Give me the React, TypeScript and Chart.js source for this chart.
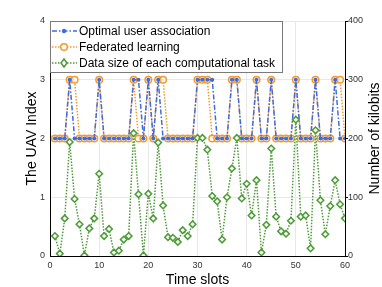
import React, { useEffect, useRef } from 'react';
import { Chart, registerables } from 'chart.js';

Chart.register(...registerables);

const timeSlots = [
  1, 2, 3, 4, 5, 6, 7, 8, 9, 10, 11, 12, 13, 14, 15, 16, 17, 18, 19, 20,
  21, 22, 23, 24, 25, 26, 27, 28, 29, 30, 31, 32, 33, 34, 35, 36, 37, 38, 39, 40,
  41, 42, 43, 44, 45, 46, 47, 48, 49, 50, 51, 52, 53, 54, 55, 56, 57, 58, 59, 60,
];

const optimalUav = [
  2, 2, 2, 3, 2, 2, 2, 2, 2, 3, 2, 2, 2, 2, 2, 2, 3, 3, 2, 3,
  2, 3, 2, 2, 2, 2, 2, 2, 2, 3, 3, 3, 3, 2, 2, 2, 3, 3, 2, 2,
  2, 3, 2, 2, 3, 2, 2, 2, 2, 3, 2, 2, 2, 3, 2, 2, 2, 3, 2, 2,
];

const federatedUav = [
  2, 2, 2, 3, 3, 2, 2, 2, 2, 3, 2, 2, 2, 2, 2, 2, 3, 2, 2, 3,
  2, 3, 3, 2, 2, 2, 2, 2, 2, 3, 3, 3, 2, 2, 2, 2, 3, 3, 2, 2,
  2, 3, 2, 2, 3, 2, 2, 2, 2, 3, 2, 2, 2, 3, 2, 2, 2, 3, 3, 2,
];

const dataSizeKbits = [
  34, 4, 64, 194, 97, 54, 1, 47, 64, 140, 34, 46, 6, 9, 28, 34, 209, 105, 1, 106,
  64, 193, 86, 32, 31, 24, 44, 34, 54, 201, 201, 181, 102, 93, 28, 100, 149, 201, 98, 123,
  69, 129, 6, 53, 183, 67, 42, 38, 60, 232, 67, 69, 13, 214, 95, 37, 85, 129, 88, 64,
];

const xTicks = [0, 10, 20, 30, 40, 50, 60];
const leftTicks = [0, 1, 2, 3, 4];
const rightTicks = [0, 100, 200, 300, 400];

const seriesNames = [
  'Optimal user association',
  'Federated learning',
  'Data size of each computational task',
];

const BLUE = '#3f6be0';
const ORANGE = '#f39a2c';
const GREEN = '#4e9a38';
const FONT = '"Liberation Sans", Arial, sans-serif';

const overlayPlugin = {
  id: 'overlay',
  afterDraw(chart: any) {
    const ctx = chart.ctx as CanvasRenderingContext2D;
    const { left, top, right, bottom } = chart.chartArea;
    ctx.save();
    // legend box
    const bx = left;
    const by = top;
    const bw = 232;
    const bh = 51;
    ctx.fillStyle = '#ffffff';
    ctx.fillRect(bx, by, bw, bh);
    ctx.strokeStyle = '#7a7a7a';
    ctx.lineWidth = 1;
    ctx.setLineDash([]);
    ctx.strokeRect(bx + 0.5, by + 0.5, bw, bh);

    const rows = [by + 10, by + 26, by + 42];
    const styles = [
      { color: BLUE, dash: [5, 2, 1.5, 2] },
      { color: ORANGE, dash: [1.5, 1.5] },
      { color: GREEN, dash: [1.5, 1.5] },
    ];
    ctx.font = `12px ${FONT}`;
    ctx.textBaseline = 'middle';
    ctx.textAlign = 'left';
    seriesNames.forEach((name, i) => {
      const y = rows[i];
      const st = styles[i];
      ctx.strokeStyle = st.color;
      ctx.lineWidth = 1.5;
      ctx.setLineDash(st.dash);
      ctx.beginPath();
      ctx.moveTo(bx + 2, y);
      ctx.lineTo(bx + 27, y);
      ctx.stroke();
      ctx.setLineDash([]);
      const mx = bx + 14;
      if (i === 0) {
        ctx.fillStyle = st.color;
        ctx.beginPath();
        ctx.arc(mx, y, 2.2, 0, Math.PI * 2);
        ctx.fill();
      } else if (i === 1) {
        ctx.fillStyle = '#ffffff';
        ctx.beginPath();
        ctx.arc(mx, y, 3.3, 0, Math.PI * 2);
        ctx.fill();
        ctx.stroke();
      } else {
        ctx.fillStyle = '#ffffff';
        ctx.beginPath();
        ctx.moveTo(mx, y - 4);
        ctx.lineTo(mx + 3, y);
        ctx.lineTo(mx, y + 4);
        ctx.lineTo(mx - 3, y);
        ctx.closePath();
        ctx.fill();
        ctx.stroke();
      }
      ctx.fillStyle = '#000000';
      ctx.fillText(name, bx + 29, y + 0.5);
    });

    // axis titles
    ctx.fillStyle = '#000000';
    ctx.font = `14px ${FONT}`;
    ctx.textAlign = 'center';
    ctx.textBaseline = 'middle';
    ctx.fillText('Time slots', (left + right) / 2, 280);

    const midY = (top + bottom) / 2;
    ctx.save();
    ctx.translate(32, midY);
    ctx.rotate(-Math.PI / 2);
    ctx.fillText('The UAV Index', 0, 0);
    ctx.restore();

    ctx.save();
    ctx.translate(375, midY);
    ctx.rotate(-Math.PI / 2);
    ctx.fillText('Number of kilobits', 0, 0);
    ctx.restore();

    ctx.restore();
  },
};

export default function App() {
  const canvasRef = useRef<HTMLCanvasElement | null>(null);

  useEffect(() => {
    if (!canvasRef.current) return;
    const tickFont = { family: FONT, size: 9 };
    const chart = new Chart(canvasRef.current, {
      type: 'line',
      data: {
        datasets: [
          {
            label: seriesNames[2],
            data: timeSlots.map((x, i) => ({ x, y: dataSizeKbits[i] })),
            yAxisID: 'y1',
            borderColor: GREEN,
            borderWidth: 1.5,
            borderDash: [1.5, 1.5],
            pointStyle: 'rectRot',
            pointRadius: 3.3,
            pointBorderWidth: 1.5,
            pointBorderColor: GREEN,
            pointBackgroundColor: '#f4f9f2',
            tension: 0,
            order: 0,
          },
          {
            label: seriesNames[0],
            data: timeSlots.map((x, i) => ({ x, y: optimalUav[i] })),
            yAxisID: 'y',
            borderColor: BLUE,
            borderWidth: 1.5,
            borderDash: [5, 2, 1.5, 2],
            pointStyle: 'circle',
            pointRadius: 2,
            pointBorderWidth: 0,
            pointBackgroundColor: BLUE,
            tension: 0,
            order: 1,
          },
          {
            label: seriesNames[1],
            data: timeSlots.map((x, i) => ({ x, y: federatedUav[i] })),
            yAxisID: 'y',
            borderColor: ORANGE,
            borderWidth: 1.5,
            borderDash: [1.5, 1.5],
            pointStyle: 'circle',
            pointRadius: 3.3,
            pointBorderWidth: 1.5,
            pointBorderColor: ORANGE,
            pointBackgroundColor: 'rgba(255,255,255,0.6)',
            tension: 0,
            order: 2,
          },
        ],
      },
      options: {
        responsive: false,
        animation: false,
        events: [],
        layout: { padding: { top: 21, left: 0, right: 0, bottom: 0 } },
        plugins: {
          legend: { display: false },
          tooltip: { enabled: false },
          title: { display: false },
        },
        scales: {
          x: {
            type: 'linear',
            min: 0,
            max: 60,
            afterBuildTicks: (s: any) => {
              s.ticks = xTicks.map((v) => ({ value: v }));
            },
            afterFit: (s: any) => {
              s.height = 31;
            },
            ticks: {
              font: tickFont,
              color: '#333333',
              padding: 4,
              maxRotation: 0,
              autoSkip: false,
            },
            grid: { color: '#e8e8e8', drawTicks: false, lineWidth: 1 },
            border: { color: '#000000', width: 1 },
          },
          y: {
            type: 'linear',
            position: 'left',
            min: 0,
            max: 4,
            afterBuildTicks: (s: any) => {
              s.ticks = leftTicks.map((v) => ({ value: v }));
            },
            afterFit: (s: any) => {
              s.width = 50;
            },
            ticks: { font: tickFont, color: '#333333', padding: 5, autoSkip: false },
            grid: { color: '#e8e8e8', drawTicks: false, lineWidth: 1 },
            border: { color: '#000000', width: 1 },
          },
          y1: {
            type: 'linear',
            position: 'right',
            min: 0,
            max: 400,
            afterBuildTicks: (s: any) => {
              s.ticks = rightTicks.map((v) => ({ value: v }));
            },
            afterFit: (s: any) => {
              s.width = 37;
            },
            ticks: { font: tickFont, color: '#333333', padding: 0, autoSkip: false },
            grid: {
              drawOnChartArea: false,
              drawTicks: true,
              tickLength: 3,
              tickColor: '#000000',
            },
            border: { color: '#000000', width: 1 },
          },
        },
      },
      plugins: [overlayPlugin],
    } as any);
    return () => chart.destroy();
  }, []);

  return (
    <div
      style={{
        position: 'fixed',
        left: 0,
        top: 0,
        width: 382,
        height: 287,
        background: '#ffffff',
      }}
    >
      <canvas ref={canvasRef} width={382} height={287} style={{ width: 382, height: 287 }} />
    </div>
  );
}
